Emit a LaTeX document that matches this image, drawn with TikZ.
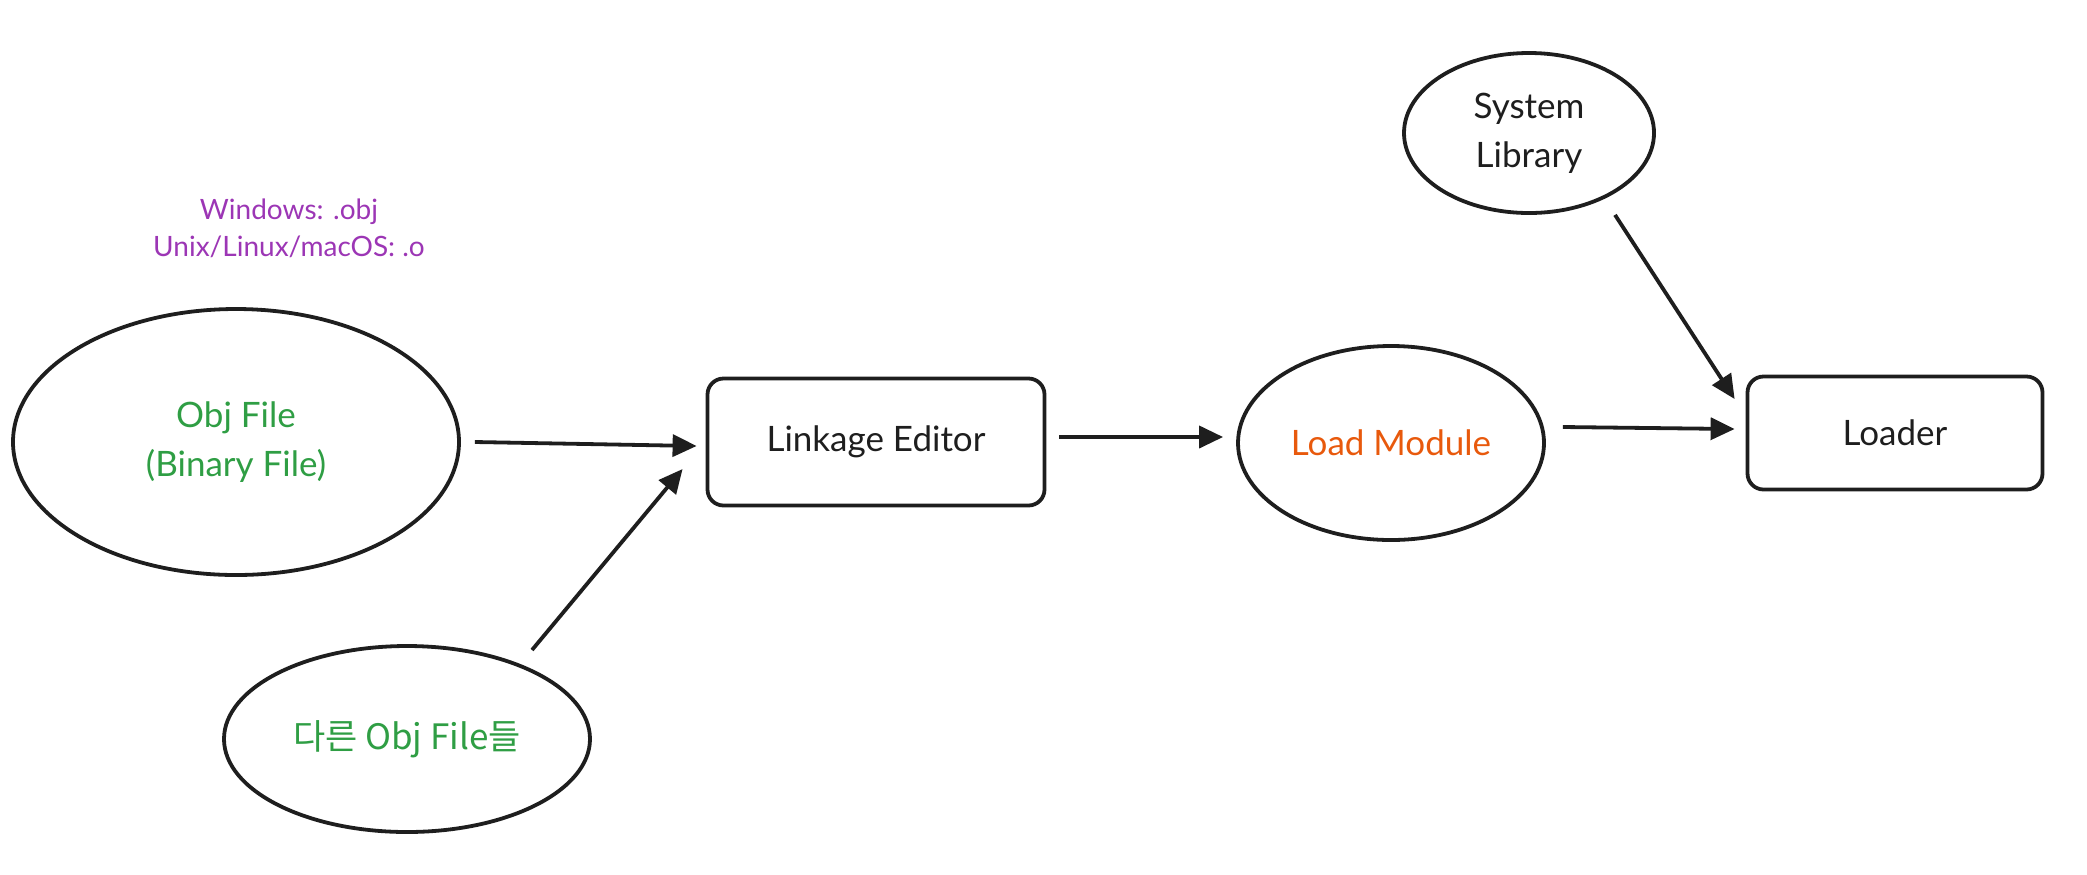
\documentclass[tikz,border=0pt]{standalone}
\usepackage{fontspec}
\setmainfont{Lato}
\newfontfamily\krfont{Noto Sans CJK KR}
\usetikzlibrary{shapes.geometric,arrows.meta}
\definecolor{ink}{HTML}{1E1E1E}
\definecolor{objgreen}{HTML}{2F9E44}
\definecolor{modorange}{HTML}{E8590C}
\definecolor{notepurple}{HTML}{9C36B5}
\begin{document}
\begin{tikzpicture}[x=0.5pt,y=-0.5pt,
    blob/.style={ellipse,draw=ink,line width=1.9pt,inner sep=0pt,font=\fontsize{17.5}{24.5}\selectfont,align=center},
    box/.style={rectangle,draw=ink,line width=1.9pt,rounded corners=8pt,inner sep=0pt,font=\fontsize{17.5}{24.5}\selectfont,text=ink},
    arr/.style={-{Triangle[length=12pt,width=11pt]},line width=1.9pt,draw=ink}]
    \useasboundingbox (0,0) rectangle (2087,874);

    \node[text=notepurple,align=center,font=\fontsize{14}{18.6}\selectfont](note)at(289,228){Windows: .obj\\Unix/Linux/macOS: .o};

    \node[blob,minimum width=223pt,minimum height=133pt,text=objgreen](obj)at(236,442){Obj File\\(Binary File)};
    \node[blob,minimum width=183pt,minimum height=93pt,text=objgreen](others)at(407,739){\krfont 다른 Obj File들};
    \node[box,minimum width=168.5pt,minimum height=63.5pt](linkage)at(876,442){Linkage Editor};
    \node[blob,minimum width=153pt,minimum height=97pt,text=modorange](load)at(1391,443){Load Module};
    \node[box,minimum width=147.5pt,minimum height=56.5pt](loader)at(1895,433){Loader};
    \node[blob,minimum width=125pt,minimum height=80pt,text=ink](syslib)at(1529,133){System\\Library};

    \draw[arr]([xshift=7pt]obj.east)--([xshift=-4.5pt,yshift=-2pt]linkage.west);
    \draw[arr]([xshift=62.5pt,yshift=44.5pt]others.center)--([xshift=-11.5pt,yshift=-13.5pt]linkage.west);
    \draw[arr]([xshift=6.5pt,yshift=2.5pt]linkage.east)--([xshift=-6.5pt,yshift=3pt]load.west);
    \draw[arr]([xshift=8.5pt,yshift=8pt]load.east)--([xshift=-5.5pt,yshift=2pt]loader.west);
    \draw[arr]([xshift=43pt]syslib.south)--([xshift=-5.5pt,yshift=17pt]loader.west);
\end{tikzpicture}
\end{document}
